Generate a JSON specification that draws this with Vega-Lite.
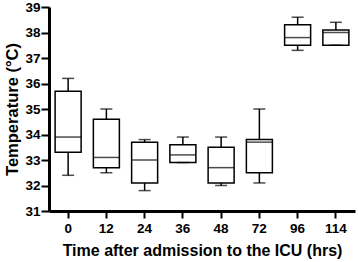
{
  "$schema": "https://vega.github.io/schema/vega-lite/v6.json",
  "autosize": "none",
  "width": 306,
  "height": 204,
  "padding": {"left": 49, "top": 7, "right": 3, "bottom": 51},
  "background": "white",
  "config": {
    "view": {"stroke": null},
    "font": "Liberation Sans",
    "axis": {
      "grid": false,
      "domainColor": "black",
      "domainWidth": 3,
      "tickColor": "black",
      "tickWidth": 2,
      "labelFont": "Liberation Sans",
      "labelFontWeight": "bold",
      "labelColor": "black",
      "titleFont": "Liberation Sans",
      "titleFontWeight": "bold",
      "titleColor": "black"
    },
    "axisY": {"labelFontSize": 13.5, "titleFontSize": 16.5, "labelPadding": 1, "tickSize": 8, "titlePadding": 4}
  },
  "data": {
    "values": [
      {"time": "0", "min": 32.4, "q1": 33.3, "median": 33.9, "q3": 35.7, "max": 36.2},
      {"time": "12", "min": 32.5, "q1": 32.7, "median": 33.1, "q3": 34.6, "max": 35.0},
      {"time": "24", "min": 31.8, "q1": 32.1, "median": 33.0, "q3": 33.7, "max": 33.8},
      {"time": "36", "min": 32.9, "q1": 32.9, "median": 33.2, "q3": 33.6, "max": 33.9},
      {"time": "48", "min": 32.0, "q1": 32.1, "median": 32.7, "q3": 33.5, "max": 33.9},
      {"time": "72", "min": 32.1, "q1": 32.5, "median": 33.7, "q3": 33.8, "max": 35.0},
      {"time": "96", "min": 37.3, "q1": 37.5, "median": 37.8, "q3": 38.3, "max": 38.6},
      {"time": "114", "min": 37.5, "q1": 37.5, "median": 38.0, "q3": 38.1, "max": 38.4}
    ]
  },
  "encoding": {
    "x": {
      "field": "time",
      "type": "ordinal",
      "sort": null,
      "scale": {"paddingInner": 0.32, "paddingOuter": 0.16},
      "axis": {
        "title": "Time after admission to the ICU (hrs)",
        "labelAngle": 0,
        "labelFontSize": 13.5,
        "labelPadding": 3,
        "tickSize": 7,
        "titleFontSize": 16,
        "titlePadding": 8
      }
    }
  },
  "layer": [
    {
      "mark": {"type": "rule", "color": "black", "strokeWidth": 1.5},
      "encoding": {
        "y": {
          "field": "min",
          "type": "quantitative",
          "scale": {"domain": [31, 39], "nice": false, "zero": false},
          "axis": {"title": "Temperature (°C)", "values": [31, 32, 33, 34, 35, 36, 37, 38, 39], "labelOverlap": false, "labelFontSize": 13.5, "labelPadding": 1, "tickSize": 8, "titleFontSize": 16.5, "titlePadding": 4}
        },
        "y2": {"field": "max"}
      }
    },
    {
      "mark": {"type": "bar", "fill": "white", "stroke": "black", "strokeWidth": 1.5},
      "encoding": {
        "y": {"field": "q1", "type": "quantitative", "axis": {"title": "Temperature (°C)", "values": [31, 32, 33, 34, 35, 36, 37, 38, 39], "labelOverlap": false, "labelFontSize": 13.5, "labelPadding": 1, "tickSize": 8, "titleFontSize": 16.5, "titlePadding": 4}},
        "y2": {"field": "q3"}
      }
    },
    {
      "mark": {"type": "tick", "color": "black", "thickness": 1.5, "size": 26},
      "encoding": {"y": {"field": "median", "type": "quantitative", "axis": {"title": "Temperature (°C)", "values": [31, 32, 33, 34, 35, 36, 37, 38, 39], "labelOverlap": false, "labelFontSize": 13.5, "labelPadding": 1, "tickSize": 8, "titleFontSize": 16.5, "titlePadding": 4}}}
    },
    {
      "mark": {"type": "tick", "color": "black", "thickness": 1.5, "size": 12},
      "encoding": {"y": {"field": "max", "type": "quantitative", "axis": {"title": "Temperature (°C)", "values": [31, 32, 33, 34, 35, 36, 37, 38, 39], "labelOverlap": false, "labelFontSize": 13.5, "labelPadding": 1, "tickSize": 8, "titleFontSize": 16.5, "titlePadding": 4}}}
    },
    {
      "mark": {"type": "tick", "color": "black", "thickness": 1.5, "size": 12},
      "encoding": {"y": {"field": "min", "type": "quantitative", "axis": {"title": "Temperature (°C)", "values": [31, 32, 33, 34, 35, 36, 37, 38, 39], "labelOverlap": false, "labelFontSize": 13.5, "labelPadding": 1, "tickSize": 8, "titleFontSize": 16.5, "titlePadding": 4}}}
    }
  ]
}
